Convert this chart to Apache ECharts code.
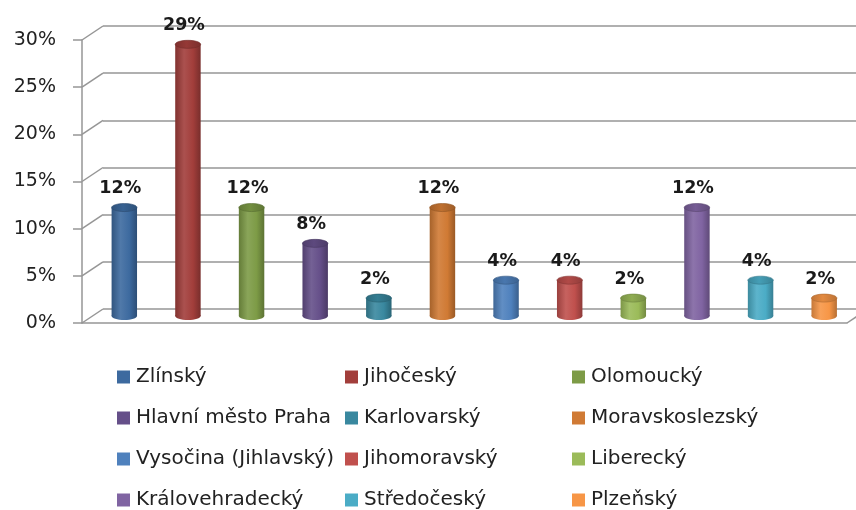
<!DOCTYPE html>
<html>
<head>
<meta charset="utf-8">
<script src="https://cdn.jsdelivr.net/npm/echarts@6/dist/echarts.min.js"></script>
<style>
  html, body { margin: 0; padding: 0; background: #fff; }
  #chart { width: 856px; height: 510px; }
</style>
</head>
<body>
<div id="chart"></div>
<script>
// Regions (one series each) and their share of respondents, in percent
const regions = [
  'Zlínský', 'Jihočeský', 'Olomoucký',
  'Hlavní město Praha', 'Karlovarský', 'Moravskoslezský',
  'Vysočina (Jihlavský)', 'Jihomoravský', 'Liberecký',
  'Královehradecký', 'Středočeský', 'Plzeňský'
];
const shares = [11.5, 28.8, 11.5, 7.7, 1.9, 11.5, 3.8, 3.8, 1.9, 11.5, 3.8, 1.9];
const regionColors = [
  '#3d6a9f', '#a23e3b', '#7d9b46', '#654f89', '#39889f', '#d07a34',
  '#4f81bd', '#c0504d', '#9bbb59', '#8064a2', '#4bacc6', '#f79646'
];
const yTicks = [0, 5, 10, 15, 20, 25, 30];

// Geometry of the pseudo-3D box: the front plane and how far the back wall sits
const FRONT = { left: 82, top: 40, width: 765, height: 283 };
const DEPTH = [21, -14];
const FONT = 'DejaVu Sans';
const LINE = '#969696';

function planeGrid(f) {
  return {
    left: FRONT.left + DEPTH[0] * f,
    top: FRONT.top + DEPTH[1] * f,
    width: FRONT.width,
    height: FRONT.height,
    containLabel: false
  };
}

function rgb(hex) {
  const n = parseInt(hex.slice(1), 16);
  return [(n >> 16) & 255, (n >> 8) & 255, n & 255];
}
function shade(hex, f) {
  const c = rgb(hex).map(v => Math.max(0, Math.min(255, Math.round(v * f))));
  return 'rgb(' + c.join(',') + ')';
}
function tint(hex, t) {
  const c = rgb(hex).map(v => Math.round(v + (255 - v) * t));
  return 'rgb(' + c.join(',') + ')';
}

// Cylinder bar: shaded body, elliptical base and cap, value label above
function cylinder(params, api) {
  const i = api.value(0);
  const v = api.value(1);
  const top = api.coord([i, v]);
  const base = api.coord([i, 0]);
  const band = api.size([1, 0])[0];
  const rx = band * 0.2;
  const ry = 4;
  const cx = top[0];
  const color = regionColors[i];
  const bodyFill = new echarts.graphic.LinearGradient(0, 0, 1, 0, [
    { offset: 0, color: shade(color, 0.8) },
    { offset: 0.35, color: tint(color, 0.1) },
    { offset: 0.7, color: color },
    { offset: 1, color: shade(color, 0.74) }
  ]);
  const capFill = new echarts.graphic.LinearGradient(0, 0, 1, 0, [
    { offset: 0, color: shade(color, 0.78) },
    { offset: 0.45, color: shade(color, 0.92) },
    { offset: 1, color: shade(color, 0.76) }
  ]);
  return {
    type: 'group',
    children: [
      { type: 'ellipse', shape: { cx: cx, cy: base[1], rx: rx, ry: ry }, style: { fill: bodyFill } },
      { type: 'rect', shape: { x: cx - rx, y: top[1], width: rx * 2, height: base[1] - top[1] }, style: { fill: bodyFill } },
      { type: 'ellipse', shape: { cx: cx, cy: top[1], rx: rx, ry: ry }, style: { fill: capFill, stroke: shade(color, 0.7), lineWidth: 0.6 } },
      {
        type: 'text',
        style: {
          text: Math.round(v) + '%',
          x: cx - 4, y: top[1] - ry - 15,
          font: 'bold 17.5px "' + FONT + '"',
          fill: '#1a1a1a',
          textAlign: 'center', textVerticalAlign: 'middle',
          align: 'center', verticalAlign: 'middle'
        }
      }
    ]
  };
}

// Receding edges joining the front axis ticks to the back-wall gridlines
function depthEdge(params, api) {
  const i = api.value(0);
  const v = api.value(1);
  const p = api.coord([i, v]);
  const half = api.size([1, 0])[0] / 2;
  const x = i === 0 ? p[0] - half : p[0] + half;
  return {
    type: 'line',
    shape: { x1: x, y1: p[1], x2: x + DEPTH[0], y2: p[1] + DEPTH[1] },
    style: { stroke: LINE, lineWidth: 1.5 }
  };
}

const hiddenX = (gridIndex) => ({
  type: 'category', gridIndex: gridIndex, data: regions,
  show: false
});
const valueAxis = (gridIndex, extra) => Object.assign({
  type: 'value', gridIndex: gridIndex, min: 0, max: 30, interval: 5
}, extra);

const series = regions.map((name, i) => ({
  type: 'custom',
  name: name,
  xAxisIndex: 2, yAxisIndex: 2,
  data: [[i, shares[i]]],
  itemStyle: { color: regionColors[i] },
  renderItem: cylinder,
  z: 5
}));

series.push({
  type: 'custom',
  name: 'edges',
  xAxisIndex: 0, yAxisIndex: 0,
  data: yTicks.map(t => [0, t]).concat([[regions.length - 1, 0]]),
  renderItem: depthEdge,
  silent: true,
  z: 1
});

const legendColumn = (names, left) => ({
  orient: 'vertical',
  left: left, top: 367,
  width: 230, height: 170,
  padding: 0,
  itemGap: 21,
  itemWidth: 13, itemHeight: 13,
  icon: 'rect',
  selectedMode: false,
  data: names,
  itemStyle: { borderWidth: 0 },
  textStyle: { fontFamily: FONT, fontSize: 20, color: '#222', lineHeight: 20, padding: [0, 0, 0, 1] }
});

const chart = echarts.init(document.getElementById('chart'), null, { renderer: 'canvas' });
chart.setOption({
  backgroundColor: '#ffffff',
  animation: false,
  grid: [planeGrid(0), planeGrid(1), planeGrid(0.5)],
  xAxis: [
    {
      type: 'category', gridIndex: 0, data: regions,
      axisLine: { show: true, lineStyle: { color: LINE, width: 1.5 } },
      axisTick: { show: false }, axisLabel: { show: false }
    },
    hiddenX(1),
    hiddenX(2)
  ],
  yAxis: [
    valueAxis(0, {
      axisLine: { show: true, lineStyle: { color: LINE, width: 1.5 } },
      axisTick: { show: true, length: 9, lineStyle: { color: LINE, width: 1.5 } },
      axisLabel: {
        formatter: '{value}%', margin: 26,
        fontFamily: FONT, fontSize: 19, color: '#222'
      },
      splitLine: { show: false }
    }),
    valueAxis(1, {
      axisLine: { show: false }, axisTick: { show: false }, axisLabel: { show: false },
      splitLine: { show: true, lineStyle: { color: LINE, width: 1.5 } }
    }),
    valueAxis(2, { show: false })
  ],
  legend: [
    legendColumn([regions[0], regions[3], regions[6], regions[9]], 117),
    legendColumn([regions[1], regions[4], regions[7], regions[10]], 345),
    legendColumn([regions[2], regions[5], regions[8], regions[11]], 572)
  ],
  series: series
});
</script>
</body>
</html>
